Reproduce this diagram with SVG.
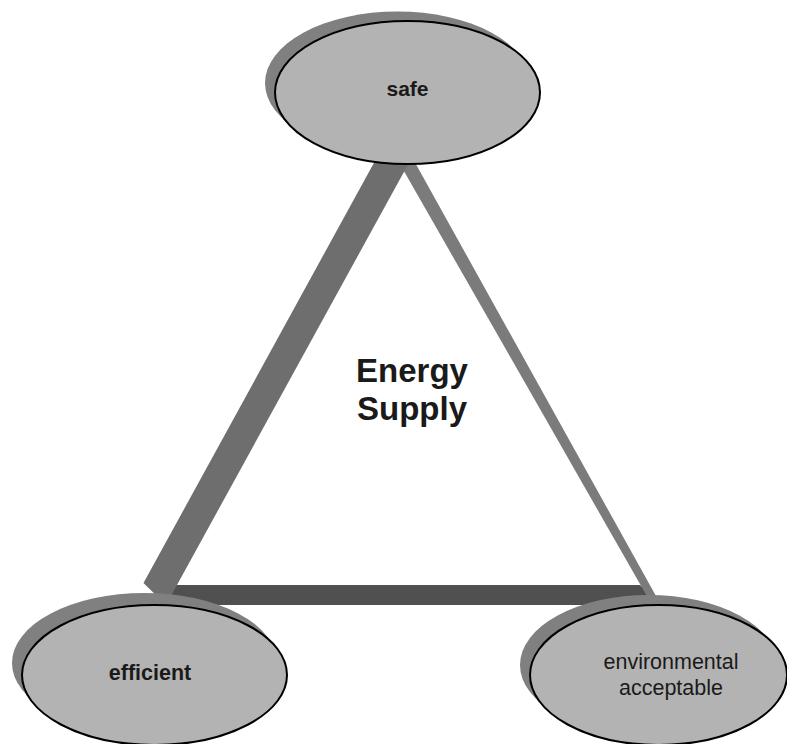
<svg xmlns="http://www.w3.org/2000/svg" width="787" height="744" viewBox="0 0 787 744">
<style>
.shadow{fill:#808080;stroke:none}
.body{fill:#b3b3b3;stroke:#000;stroke-width:2}
.lbl{font-family:"Liberation Sans",Arial,sans-serif;fill:#1a1a1a;text-anchor:middle}
.b{font-weight:bold}
</style>
<rect width="787" height="744" fill="#fff"/>
<g id="connectors">
<polygon points="175,585 640,585 660,605 166,605" fill="#505050"/>
<polygon points="397.6,160 413.6,160 661,605 652,605" fill="#7b7b7b"/>
<polygon points="416,150 381,150 143.5,583 166,605" fill="#6e6e6e"/>
</g>
<g id="title">
<text class="lbl b" x="412" y="382" font-size="33">Energy</text>
<text class="lbl b" x="412" y="420" font-size="33">Supply</text>
</g>
<g id="node-safe">
<ellipse class="shadow" cx="397.5" cy="83" rx="132.5" ry="71.5"/>
<ellipse class="body" cx="407.5" cy="92.5" rx="132.5" ry="71.5"/>
<text class="lbl b" x="407.5" y="96" font-size="21">safe</text>
</g>
<g id="node-efficient">
<ellipse class="shadow" cx="144.5" cy="663" rx="132.5" ry="70"/>
<ellipse class="body" cx="154.5" cy="675" rx="132.5" ry="70"/>
<text class="lbl b" x="150" y="680" font-size="21.5">efficient</text>
</g>
<g id="node-environmental">
<ellipse class="shadow" cx="648.5" cy="665" rx="128.5" ry="70"/>
<ellipse class="body" cx="658.5" cy="675" rx="128.5" ry="70"/>
<text class="lbl" x="671" y="669" font-size="21.5">environmental</text>
<text class="lbl" x="671" y="695" font-size="21.5">acceptable</text>
</g>
</svg>
